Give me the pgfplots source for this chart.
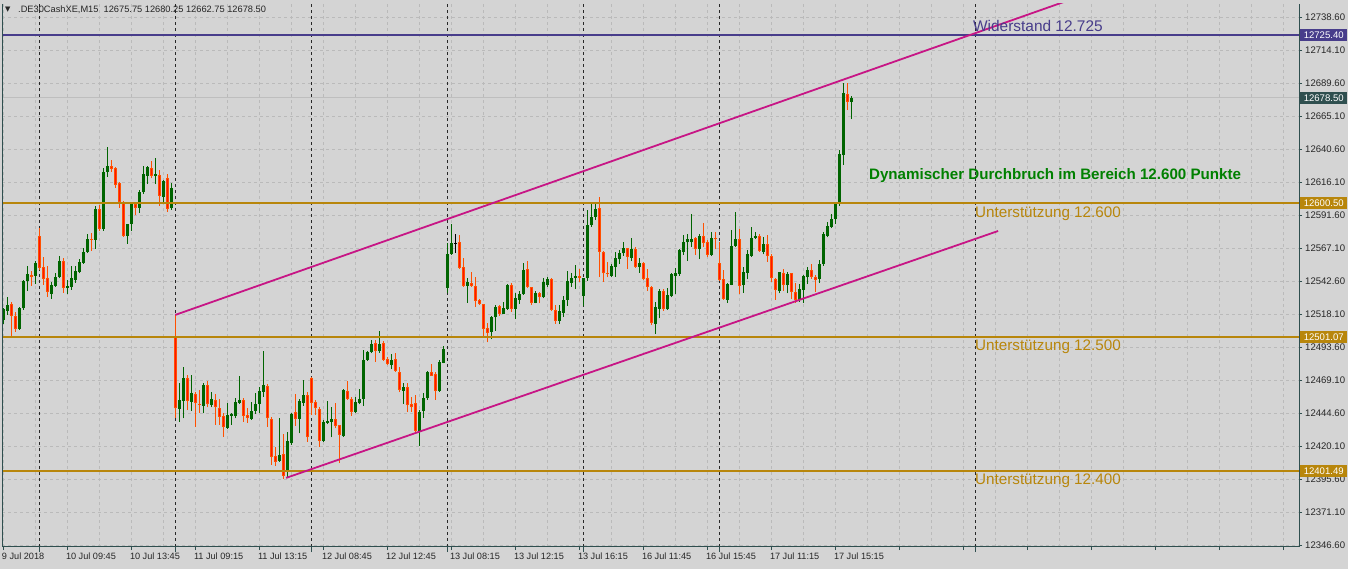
\documentclass[border=0pt]{standalone}
\usepackage{pgfplots}
\pgfplotsset{compat=1.18}
\usepackage{pgfplotstable}
\usepackage{fontspec}
\setmainfont{Liberation Sans}
\newfontfamily\symfont{DejaVu Sans}
\definecolor{bg}{RGB}{212,212,212}
\definecolor{gridc}{RGB}{186,186,186}
\definecolor{framec}{RGB}{47,79,79}
\definecolor{bullc}{RGB}{0,100,0}
\definecolor{bearfill}{RGB}{255,20,0}
\definecolor{bearedge}{RGB}{255,80,0}
\definecolor{gold}{RGB}{184,134,11}
\definecolor{slateblue}{RGB}{72,61,139}
\definecolor{magline}{RGB}{199,21,133}
\definecolor{textgreen}{RGB}{0,128,0}
\definecolor{bidline}{RGB}{190,190,190}
\definecolor{sepc}{RGB}{40,40,40}

\pgfplotstableread{
i O H L C
0 12513.6 12522.3 12510.7 12521.6
1 12520.6 12531.0 12517.4 12524.8
2 12525.5 12527.3 12501.8 12516.9
3 12516.6 12519.9 12505.0 12507.2
4 12507.0 12523.5 12506.2 12522.8
5 12522.3 12543.4 12521.1 12542.6
6 12542.9 12553.8 12535.4 12547.8
7 12547.1 12550.0 12538.9 12545.8
8 12546.6 12557.7 12540.4 12555.7
9 12576.0 12581.7 12550.8 12552.5
10 12553.0 12560.2 12539.7 12543.9
11 12545.1 12553.8 12531.0 12534.7
12 12533.0 12542.1 12529.3 12539.7
13 12539.2 12548.3 12538.4 12545.8
14 12545.3 12561.2 12544.6 12557.5
15 12557.5 12559.4 12534.0 12537.7
16 12537.2 12543.4 12532.7 12539.2
17 12538.4 12553.8 12535.9 12545.1
18 12543.4 12553.8 12541.4 12550.0
19 12549.5 12559.0 12548.3 12556.7
20 12556.2 12566.9 12555.2 12564.2
21 12564.2 12577.3 12563.2 12573.8
22 12573.8 12578.0 12565.1 12573.1
23 12573.3 12598.3 12566.4 12596.1
24 12596.1 12598.8 12580.0 12581.5
25 12581.5 12626.3 12580.0 12623.5
26 12623.5 12641.9 12620.1 12628.0
27 12628.0 12632.5 12623.8 12626.0
28 12626.5 12627.5 12611.9 12614.1
29 12615.1 12615.9 12596.8 12601.3
30 12601.5 12602.3 12575.5 12576.3
31 12576.0 12585.2 12570.3 12585.2
32 12585.2 12600.3 12580.0 12599.8
33 12599.8 12601.5 12591.6 12597.1
34 12597.1 12610.2 12593.4 12608.4
35 12608.4 12628.0 12607.0 12622.1
36 12620.8 12628.0 12614.4 12627.0
37 12626.3 12631.7 12618.8 12620.6
38 12620.6 12633.7 12614.4 12622.1
39 12621.1 12625.0 12598.5 12606.0
40 12605.2 12617.6 12601.0 12616.9
41 12618.8 12622.1 12594.1 12596.3
42 12596.6 12615.1 12595.3 12611.4
43 12502.0 12517.4 12440.9 12448.1
44 12447.6 12466.6 12438.2 12454.3
45 12453.7 12479.0 12440.6 12470.3
46 12470.3 12472.8 12446.8 12453.7
47 12453.0 12472.8 12446.3 12459.7
48 12458.7 12460.4 12434.4 12451.8
49 12451.5 12461.7 12444.8 12450.8
50 12450.0 12466.6 12444.3 12465.4
51 12465.4 12468.6 12448.8 12451.0
52 12450.5 12460.4 12448.8 12455.0
53 12454.3 12458.7 12435.7 12448.8
54 12448.0 12455.0 12435.7 12441.9
55 12442.4 12444.3 12427.0 12433.9
56 12433.7 12452.3 12432.7 12443.1
57 12442.4 12444.8 12435.7 12443.8
58 12442.6 12455.5 12440.6 12453.0
59 12452.3 12472.0 12451.3 12454.3
60 12454.3 12455.5 12438.2 12442.6
61 12443.1 12448.0 12437.4 12441.1
62 12440.1 12453.0 12439.4 12446.3
63 12446.3 12459.2 12443.8 12451.3
64 12451.3 12464.1 12444.3 12461.2
65 12460.2 12490.6 12456.7 12465.4
66 12464.6 12466.1 12434.4 12440.6
67 12440.1 12441.4 12406.0 12412.2
68 12412.7 12419.1 12405.2 12408.4
69 12409.2 12440.6 12408.4 12413.4
70 12414.1 12429.0 12395.5 12398.1
71 12401.0 12430.7 12397.0 12423.8
72 12422.1 12444.9 12420.9 12443.9
73 12445.4 12458.8 12435.0 12440.4
74 12440.4 12455.0 12429.5 12453.5
75 12452.3 12469.1 12449.8 12458.0
76 12458.0 12460.4 12423.3 12426.5
77 12470.4 12471.6 12443.1 12452.3
78 12452.5 12454.3 12443.1 12448.1
79 12447.3 12448.8 12419.6 12424.1
80 12424.1 12439.4 12423.3 12438.2
81 12437.4 12453.8 12436.4 12438.9
82 12438.2 12448.8 12426.5 12440.4
83 12440.2 12451.8 12433.2 12435.0
84 12435.7 12435.7 12407.3 12428.3
85 12427.5 12462.4 12427.0 12461.7
86 12460.9 12468.4 12454.3 12455.0
87 12455.0 12456.7 12442.4 12445.6
88 12445.4 12456.7 12444.9 12453.0
89 12451.8 12462.2 12451.0 12455.0
90 12455.0 12491.4 12449.8 12484.0
91 12484.0 12490.6 12483.2 12489.7
92 12489.7 12498.8 12488.9 12495.8
93 12496.3 12498.8 12482.7 12490.6
94 12490.6 12505.5 12489.4 12495.8
95 12496.3 12498.0 12483.5 12484.0
96 12484.5 12486.4 12480.2 12480.7
97 12480.2 12488.2 12477.0 12484.0
98 12484.5 12489.4 12475.3 12476.0
99 12474.8 12479.0 12460.0 12461.7
100 12461.2 12467.1 12451.3 12463.7
101 12463.7 12466.6 12445.6 12450.5
102 12451.0 12456.7 12445.6 12448.8
103 12451.8 12458.0 12429.5 12431.5
104 12431.5 12446.8 12420.1 12445.6
105 12446.3 12459.2 12441.1 12455.5
106 12455.5 12475.8 12454.3 12474.8
107 12474.8 12481.0 12472.1 12472.3
108 12473.5 12475.3 12454.3 12460.9
109 12460.9 12484.0 12460.4 12482.5
110 12482.0 12494.4 12481.5 12491.9
111 12537.7 12571.1 12533.5 12562.7
112 12562.7 12584.9 12561.9 12570.6
113 12570.6 12577.5 12563.6 12570.6
114 12571.3 12576.8 12551.5 12552.5
115 12552.8 12559.9 12538.4 12539.1
116 12539.1 12544.6 12526.5 12542.1
117 12541.4 12549.5 12538.4 12539.1
118 12538.9 12545.8 12523.6 12527.8
119 12528.5 12529.2 12524.8 12525.5
120 12525.5 12525.5 12501.3 12507.0
121 12508.0 12511.2 12497.1 12504.3
122 12505.0 12516.6 12499.3 12515.6
123 12515.6 12524.8 12505.7 12523.1
124 12524.1 12524.8 12516.6 12518.1
125 12518.1 12527.3 12517.9 12522.3
126 12521.8 12540.1 12521.1 12539.6
127 12539.6 12540.9 12519.8 12521.8
128 12521.8 12534.0 12514.4 12529.7
129 12528.5 12535.4 12525.5 12533.0
130 12532.7 12555.7 12532.2 12550.8
131 12551.3 12557.5 12537.2 12538.4
132 12537.9 12538.4 12524.8 12526.5
133 12526.5 12535.2 12526.0 12534.0
134 12533.5 12534.7 12526.0 12530.5
135 12530.5 12544.6 12529.7 12542.1
136 12539.6 12545.8 12538.4 12544.1
137 12543.9 12544.6 12520.3 12521.1
138 12521.1 12524.8 12510.7 12513.2
139 12513.2 12524.8 12510.5 12520.6
140 12519.1 12531.5 12515.7 12528.5
141 12528.5 12550.1 12524.1 12542.9
142 12541.4 12548.8 12538.4 12544.6
143 12544.6 12554.5 12536.5 12546.4
144 12546.4 12551.5 12542.1 12545.1
145 12531.5 12544.6 12524.1 12544.6
146 12544.6 12595.4 12542.9 12584.2
147 12584.2 12599.8 12583.0 12590.4
148 12590.4 12599.8 12587.9 12596.1
149 12596.6 12605.3 12545.8 12564.4
150 12564.4 12564.9 12542.1 12548.3
151 12548.8 12557.0 12545.3 12547.6
152 12546.6 12555.3 12545.3 12553.8
153 12553.3 12564.4 12545.8 12559.4
154 12558.7 12565.6 12555.3 12563.1
155 12563.1 12571.8 12561.2 12566.9
156 12566.9 12566.9 12551.5 12560.7
157 12560.0 12574.3 12557.7 12566.1
158 12566.1 12567.6 12552.5 12553.3
159 12553.3 12559.4 12548.8 12555.8
160 12556.3 12557.0 12543.4 12544.1
161 12544.6 12551.3 12535.5 12538.4
162 12538.4 12538.9 12510.0 12511.7
163 12510.7 12527.3 12503.3 12523.6
164 12521.9 12536.5 12514.9 12535.5
165 12535.2 12536.5 12520.6 12521.6
166 12521.6 12537.7 12521.1 12532.2
167 12531.4 12548.8 12530.4 12547.8
168 12546.3 12552.0 12532.7 12548.8
169 12547.8 12566.1 12546.3 12565.6
170 12563.8 12576.7 12561.9 12571.8
171 12571.3 12577.5 12557.7 12573.5
172 12571.3 12592.3 12568.1 12573.7
173 12574.2 12575.0 12561.9 12566.3
174 12566.3 12577.2 12558.9 12576.0
175 12576.0 12585.4 12568.1 12571.0
176 12571.8 12573.0 12560.1 12561.9
177 12561.9 12579.2 12561.1 12574.2
178 12574.5 12579.2 12566.1 12573.5
179 12555.7 12571.8 12542.6 12543.3
180 12543.8 12550.7 12528.5 12529.2
181 12528.5 12540.8 12526.5 12540.3
182 12539.8 12580.4 12539.3 12568.6
183 12568.6 12593.5 12568.1 12573.5
184 12573.5 12580.9 12532.9 12538.9
185 12539.6 12553.2 12533.9 12549.5
186 12548.8 12565.6 12543.8 12562.6
187 12561.4 12582.9 12560.6 12574.7
188 12574.7 12579.2 12573.7 12576.0
189 12576.2 12577.2 12564.4 12565.1
190 12564.4 12575.0 12562.4 12569.8
191 12570.0 12576.7 12556.9 12561.4
192 12561.1 12562.4 12542.1 12544.6
193 12543.8 12545.1 12528.5 12535.9
194 12535.4 12549.5 12533.4 12549.0
195 12548.3 12551.2 12535.4 12539.6
196 12539.6 12549.5 12533.4 12547.5
197 12548.3 12548.8 12529.2 12534.7
198 12534.2 12540.8 12526.5 12528.5
199 12528.5 12540.3 12527.2 12536.4
200 12535.9 12547.0 12526.5 12546.3
201 12545.3 12552.7 12540.3 12550.7
202 12550.7 12555.2 12544.1 12545.8
203 12545.8 12547.0 12534.7 12543.3
204 12544.1 12558.2 12541.3 12554.9
205 12555.2 12579.2 12554.0 12577.2
206 12576.2 12586.6 12575.0 12583.4
207 12582.9 12592.3 12581.7 12588.4
208 12588.6 12601.5 12584.9 12600.2
209 12600.2 12639.8 12598.5 12636.9
210 12636.1 12689.8 12628.7 12682.4
211 12681.4 12689.8 12669.5 12675.75
212 12675.75 12680.25 12662.75 12678.50
}\candles

\pgfplotsset{
  candlebar/.style={forget plot, only marks, mark=text, text mark={},
    mark options={draw=none, fill=none},
    error bars/y dir=plus, error bars/y explicit, error bars/error mark=none},
}

\begin{document}
\begin{tikzpicture}
\useasboundingbox (0,0) rectangle (1348bp,569bp);
\fill[bg] (0,0) rectangle (1348bp,569bp);
\begin{axis}[
  at={(2bp,22bp)}, anchor=south west,
  x=4bp, y=1.347bp,
  xmin=-0.325, xmax=323.925, ymin=12345.1, ymax=12748.25,
  axis line style={draw=none},
  clip=true,
  scaled y ticks=false, scaled x ticks=false,
  xtick={0,16,...,320},
  xticklabels={9 Jul 2018, 10 Jul 09:45, 10 Jul 13:45, 11 Jul 09:15, 11 Jul 13:15, 12 Jul 08:45, 12 Jul 12:45, 13 Jul 08:15, 13 Jul 12:15, 13 Jul 16:15, 16 Jul 11:45, 16 Jul 15:45, 17 Jul 11:15, 17 Jul 15:15},
  minor xtick={8,24,...,312},
  ytick={12346.6,12371.1,12395.6,12420.1,12444.6,12469.1,12493.6,12518.1,12542.6,12567.1,12591.6,12616.1,12640.6,12665.1,12689.6,12714.1,12738.6},
  xtick pos=left, ytick pos=right, yticklabel pos=right,
  tick align=outside, major tick length=3bp, minor tick length=0bp,
  tick style={framec, line width=0.8bp},
  grid=both,
  major grid style={gridc, line width=0.8bp, dash pattern=on 3bp off 3bp},
  minor grid style={gridc, line width=0.8bp, dash pattern=on 3bp off 3bp},
  xticklabel style={anchor=north west, inner sep=0pt, xshift=-1.5bp, yshift=-3bp, font=\fontsize{9.2}{10}\selectfont, text=black!85},
  yticklabel style={anchor=west, inner sep=0pt, xshift=3bp, font=\fontsize{9.6}{10}\selectfont, text=black!85,
    /pgf/number format/.cd, fixed, fixed zerofill, precision=2, 1000 sep={}, assume math mode=true},
  extra x ticks={9,43,77,111,145,179,243},
  extra x tick labels={},
  extra x tick style={grid=major, major grid style={sepc, line width=0.8bp, dash pattern=on 3bp off 3bp}, major tick length=5bp},
]
% bid line
\addplot[bidline, line width=1bp, forget plot] coordinates {(-1,12678.5) (330,12678.5)};

% bull candles
\addplot[candlebar, error bars/error bar style={line width=1bp, bullc},
  restrict expr to domain={\thisrow{C}-\thisrow{O}}{0.001:10000}]
  table[x=i, y=L, y error plus expr=\thisrow{H}-\thisrow{L}] {\candles};
\addplot[candlebar, error bars/error bar style={line width=3bp, bullc},
  restrict expr to domain={\thisrow{C}-\thisrow{O}}{0.001:10000}]
  table[x=i, y=O, y error plus expr={max(\thisrow{C}-\thisrow{O},0.75)}] {\candles};
% bear candles
\addplot[candlebar, error bars/error bar style={line width=1bp, bearedge},
  restrict expr to domain={\thisrow{O}-\thisrow{C}}{0.001:10000}]
  table[x=i, y=L, y error plus expr=\thisrow{H}-\thisrow{L}] {\candles};
\addplot[candlebar, error bars/error bar style={line width=3bp, bearedge},
  restrict expr to domain={\thisrow{O}-\thisrow{C}}{0.001:10000}]
  table[x=i, y=C, y error plus expr={max(\thisrow{O}-\thisrow{C},0.75)}] {\candles};
\addplot[candlebar, error bars/error bar style={line width=1.2bp, bearfill},
  restrict expr to domain={\thisrow{O}-\thisrow{C}}{1.6:10000}]
  table[x=i, y expr=\thisrow{C}+0.74, y error plus expr={\thisrow{O}-\thisrow{C}-1.48}] {\candles};
% doji
\addplot[candlebar, error bars/error bar style={line width=1bp, black},
  restrict expr to domain={abs(\thisrow{C}-\thisrow{O})}{0:0.0009}]
  table[x=i, y=L, y error plus expr=\thisrow{H}-\thisrow{L}] {\candles};
\addplot[candlebar, error bars/error bar style={line width=3bp, black},
  restrict expr to domain={abs(\thisrow{C}-\thisrow{O})}{0:0.0009}]
  table[x=i, y expr=\thisrow{O}-0.37, y error plus expr=0.75] {\candles};

% horizontal levels
\addplot[slateblue, line width=1.8bp, forget plot] coordinates {(-1,12725.4) (330,12725.4)};
\addplot[gold, line width=1.8bp, forget plot] coordinates {(-1,12600.5) (330,12600.5)};
\addplot[gold, line width=1.8bp, forget plot] coordinates {(-1,12501.07) (330,12501.07)};
\addplot[gold, line width=1.8bp, forget plot] coordinates {(-1,12401.49) (330,12401.49)};
% trend channel
\addplot[magline, line width=1.8bp, forget plot] coordinates {(43,12517.4) (265,12749.6)};
\addplot[magline, line width=1.8bp, forget plot] coordinates {(70.7,12396.4) (248.7,12579.7)};

% annotations
\node[anchor=west, inner sep=0pt, text=slateblue, font=\fontsize{15.5}{16}\selectfont] at (axis cs:242.4,12731.9) {Widerstand 12.725};
\node[anchor=west, inner sep=0pt, text=gold, font=\fontsize{15.3}{16}\selectfont] at (axis cs:242.9,12592.8) {Unterstützung 12.600};
\node[anchor=west, inner sep=0pt, text=gold, font=\fontsize{15.3}{16}\selectfont] at (axis cs:242.9,12494.1) {Unterstützung 12.500};
\node[anchor=west, inner sep=0pt, text=gold, font=\fontsize{15.3}{16}\selectfont] at (axis cs:242.9,12394.6) {Unterstützung 12.400};
\node[anchor=west, inner sep=0pt, text=textgreen, font=\bfseries\fontsize{15.2}{16}\selectfont] at (axis cs:216.4,12620.6) {Dynamischer Durchbruch im Bereich 12.600 Punkte};

\coordinate (r1) at (axis cs:323.925,12725.4);
\coordinate (r2) at (axis cs:323.925,12678.5);
\coordinate (r3) at (axis cs:323.925,12600.5);
\coordinate (r4) at (axis cs:323.925,12501.07);
\coordinate (r5) at (axis cs:323.925,12401.49);
\coordinate (bl) at (rel axis cs:0,0);
\coordinate (tl) at (rel axis cs:0,1);
\coordinate (br) at (rel axis cs:1,0);
\coordinate (tr) at (rel axis cs:1,1);
\end{axis}
% frame
\draw[framec, line width=1bp] (tl) -- (bl) -- (br) -- (tr);
% price tags
\tikzset{tag/.style={anchor=west, inner xsep=0pt, inner ysep=0pt, minimum width=47bp, minimum height=12bp, text=white, font=\fontsize{9.6}{10}\selectfont}}
\node[tag, fill=slateblue] at ([xshift=1bp]r1) {12725.40};
\node[tag, fill=framec] at ([xshift=1bp]r2) {12678.50};
\node[tag, fill=gold] at ([xshift=1bp]r3) {12600.50};
\node[tag, fill=gold] at ([xshift=1bp]r4) {12501.07};
\node[tag, fill=gold] at ([xshift=1bp]r5) {12401.49};
% header
\node[anchor=west, inner sep=0pt, font=\symfont\fontsize{7}{8}\selectfont, text=black!85] at (5bp,559bp) {▼};
\node[anchor=west, inner sep=0pt, font=\fontsize{9.3}{10}\selectfont, text=black!85] at (18bp,559bp) {.DE30CashXE,M15\ \ 12675.75 12680.25 12662.75 12678.50};
\end{tikzpicture}
\end{document}
